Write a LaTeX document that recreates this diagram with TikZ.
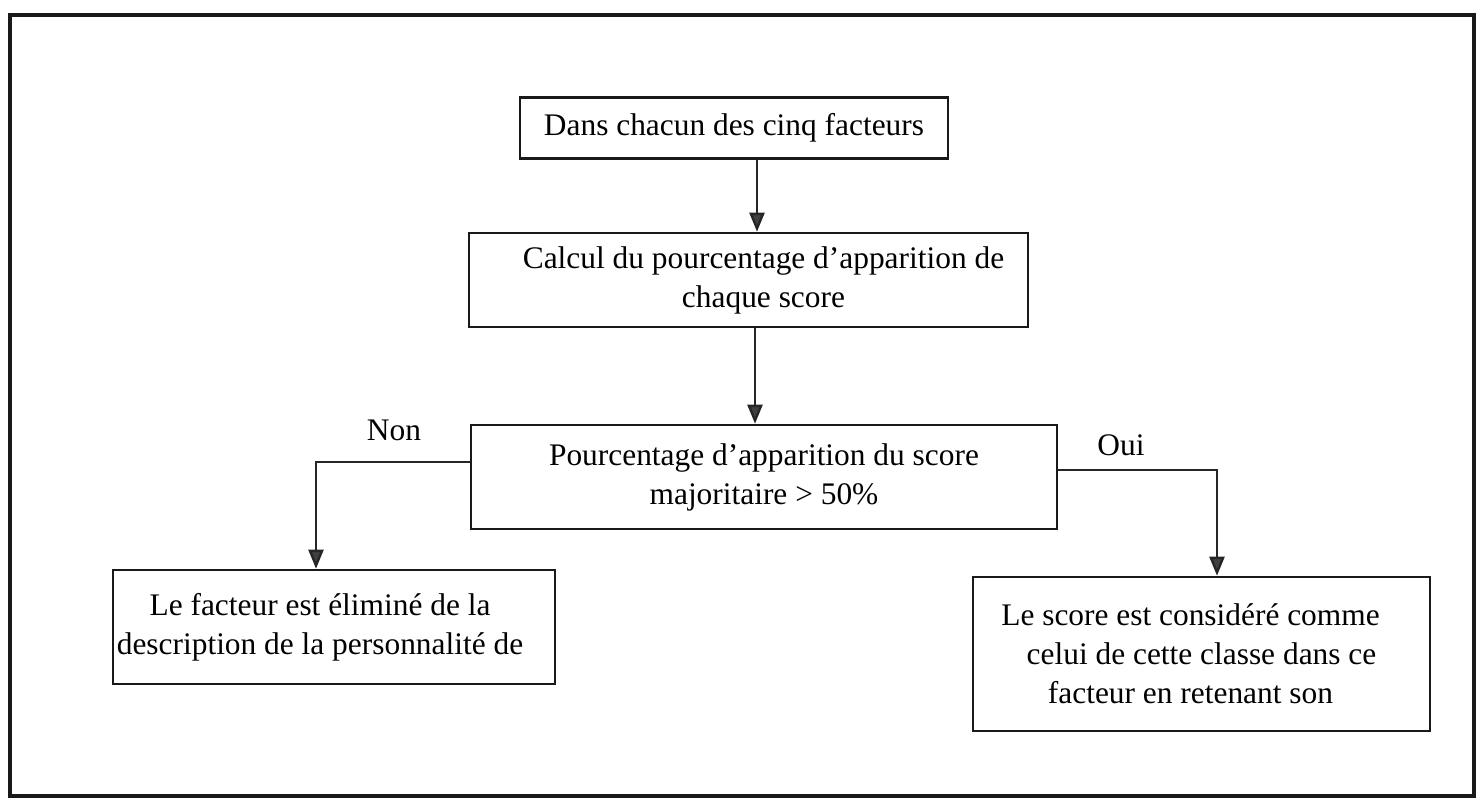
\documentclass[tikz,border=0pt]{standalone}
\usepackage{fontspec}
\setmainfont{Liberation Serif}
\usetikzlibrary{arrows.meta,calc}
\tikzset{
  stepbox/.style={draw=black!90, line width=1.3pt, rectangle, align=center,
    font=\fontsize{15.7}{19.5}\selectfont, inner sep=0pt},
  arr/.style={draw=black!85, line width=1.2pt,
    -{Triangle[width=7.5pt,length=9.5pt,fill=black!75]}},
  branch/.style={font=\fontsize{15.7}{18}\selectfont},
}
\begin{document}
\begin{tikzpicture}[x=0.5pt,y=-0.5pt]
  \useasboundingbox (0,0) rectangle (1480,804);
  % outer frame
  \draw[line width=1.6pt, black!90] (10,15) rectangle (1474,796);

  % flowchart boxes
  \node[stepbox, minimum width=214pt, minimum height=30.5pt] (n1) at (734,128)
    {Dans chacun des cinq facteurs};
  \node[stepbox, minimum width=279.5pt, minimum height=47pt] (n2) at (748.5,280)
    {\hspace*{15pt}Calcul du pourcentage d’apparition de\\\hspace*{15pt}chaque score};
  \node[stepbox, minimum width=293pt, minimum height=52pt] (n3) at (764,477)
    {Pourcentage d’apparition du score\\majoritaire > 50\%};
  \node[stepbox, minimum width=221pt, minimum height=57pt] (n4) at (334,627)
    {Le facteur est éliminé de la\hspace*{14pt}\\description de la personnalité de\hspace*{14pt}};
  \node[stepbox, minimum width=228.5pt, minimum height=77pt] (n5) at (1201.5,654)
    {Le score est considéré comme\hspace*{11pt}\\celui de cette classe dans ce\hspace*{11pt}\\facteur en retenant son\hspace*{11pt}};

  % anchor points of the vertical links
  \coordinate (s1) at ($(n1.south)+(23,0)$);
  \coordinate (s2) at ($(n2.south)+(6.5,0)$);
  \coordinate (wl) at ($(n3.west)+(0,-15)$);
  \coordinate (el) at ($(n3.east)+(0,-7)$);
  \coordinate (t4) at ($(n4.north)+(-18,0)$);
  \coordinate (t5) at ($(n5.north)+(15.5,0)$);

  % vertical links
  \draw[arr] (s1) -- (s1 |- n2.north);
  \draw[arr] (s2) -- (s2 |- n3.north);

  % decision branches
  \draw[arr] (wl) -| (t4);
  \draw[arr] (el) -| (t5);

  \node[branch] (non) at (394,430) {Non};
  \node[branch] (oui) at (1121,445) {Oui};
\end{tikzpicture}
\end{document}
